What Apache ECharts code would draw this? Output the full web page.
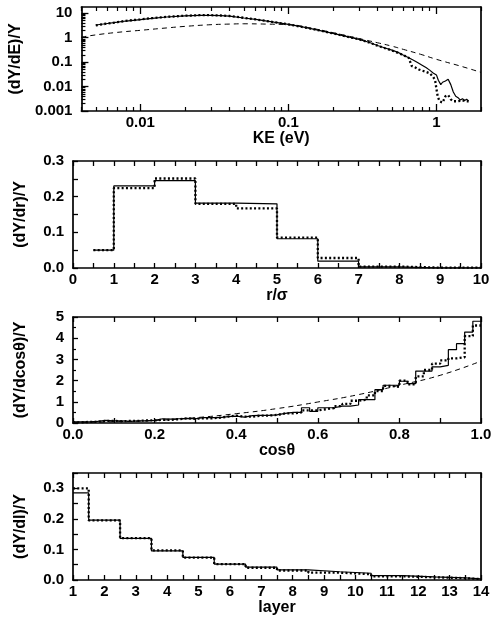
<!DOCTYPE html>
<html><head><meta charset="utf-8">
<script src="https://cdn.jsdelivr.net/npm/echarts@6/dist/echarts.min.js"></script>
<style>html,body{margin:0;padding:0;background:#fff}#c{width:498px;height:624px}</style>
</head><body><div id="c"></div>
<script>
// ---------- Panel 1: kinetic energy distribution ----------
const keSolidX = [0.005,0.006,0.007,0.008,0.01,0.012,0.015,0.02,0.025,0.03,0.035,0.04,0.05,0.06,0.07,0.08,0.1,0.12,0.15,0.2,0.25,0.3,0.35,0.4,0.45,0.5,0.55,0.6,0.65,0.7,0.75,0.8,0.85,0.9,0.95,1.0,1.03,1.07,1.1,1.15,1.2,1.25,1.3,1.35,1.4,1.45,1.5,1.55,1.6,1.65];
const keSolidY = [3.3,3.8,4.3,4.8,5.5,6.2,7.0,7.8,8.2,8.2,8.0,7.6,6.4,5.6,4.9,4.3,3.5,2.9,2.2,1.5,1.1,0.85,0.65,0.48,0.38,0.31,0.25,0.19,0.15,0.12,0.095,0.075,0.06,0.047,0.036,0.03,0.018,0.012,0.015,0.017,0.02,0.012,0.006,0.004,0.0035,0.0028,0.0032,0.0027,0.003,0.0026];
const keDotX = [0.005,0.006,0.007,0.008,0.01,0.012,0.015,0.02,0.025,0.03,0.035,0.04,0.05,0.06,0.07,0.08,0.1,0.12,0.15,0.2,0.25,0.3,0.35,0.4,0.45,0.5,0.55,0.6,0.65,0.68,0.72,0.76,0.8,0.85,0.9,0.95,0.98,1.0,1.02,1.05,1.1,1.15,1.2,1.25,1.3,1.4,1.5,1.6,1.65];
const keDotY = [3.2,3.8,4.3,4.9,5.6,6.3,7.1,7.9,8.3,8.3,8.1,7.7,6.5,5.6,4.9,4.3,3.5,2.85,2.2,1.5,1.1,0.86,0.64,0.47,0.37,0.3,0.24,0.19,0.15,0.07,0.06,0.05,0.045,0.04,0.035,0.025,0.018,0.008,0.004,0.0025,0.0022,0.004,0.0045,0.003,0.0025,0.0025,0.0027,0.0025,0.0025];
const keDashX = [0.004,0.005,0.007,0.01,0.015,0.02,0.03,0.04,0.05,0.07,0.1,0.15,0.2,0.3,0.4,0.5,0.6,0.8,1.0,1.5,2.0];
const keDashY = [1.05,1.3,1.65,2.0,2.5,2.9,3.4,3.6,3.7,3.6,3.4,2.3,1.6,0.92,0.62,0.45,0.33,0.2,0.13,0.065,0.038];
const keLabelVals = [0.01,0.1,1];
const keYLabelVals = [0.001,0.01,0.1,1,10];

// ---------- Panel 2: radial distribution ----------
const rEdges = [0.5,1,2,3,4,5,6,7,8,9,10];
const rSolid = [0.05,0.23,0.245,0.182,0.18,0.082,0.019,0.003,0,0];
const rDotted = [0.05,0.224,0.251,0.18,0.167,0.085,0.028,0.004,0.001,0.001];

// ---------- Panel 3: angular distribution ----------
const cosEdges = [0.00,0.02,0.04,0.06,0.08,0.10,0.12,0.14,0.16,0.18,0.20,0.22,0.24,0.26,0.28,0.30,0.32,0.34,0.36,0.38,0.40,0.42,0.44,0.46,0.48,0.50,0.52,0.54,0.56,0.58,0.60,0.62,0.64,0.66,0.68,0.70,0.72,0.74,0.76,0.78,0.80,0.82,0.84,0.86,0.88,0.90,0.92,0.94,0.96,0.98,1.00];
const cosSolid = [0.05,0.05,0.08,0.12,0.1,0.1,0.08,0.1,0.1,0.12,0.2,0.18,0.2,0.22,0.2,0.25,0.25,0.25,0.3,0.32,0.28,0.35,0.36,0.36,0.38,0.45,0.5,0.5,0.72,0.55,0.72,0.72,0.8,0.8,0.85,1.1,1.1,1.57,1.78,1.78,1.97,1.86,2.45,2.45,2.65,2.72,3.46,3.74,4.29,4.8];
const cosDotted = [0.03,0.05,0.06,0.1,0.1,0.08,0.1,0.1,0.12,0.12,0.15,0.15,0.18,0.22,0.2,0.22,0.22,0.25,0.3,0.35,0.3,0.3,0.35,0.35,0.38,0.45,0.45,0.5,0.6,0.6,0.65,0.7,0.8,0.9,1.05,1.1,1.3,1.5,1.75,1.7,2.0,1.82,2.2,2.5,2.8,2.95,3.05,3.1,4.1,4.6];
const cosDashX = [0,0.1,0.2,0.3,0.4,0.5,0.6,0.7,0.8,0.9,1.0];
const cosDashY = [0.03,0.06,0.12,0.25,0.44,0.68,0.99,1.34,1.78,2.25,2.92];

// ---------- Panel 4: layer distribution ----------
const layerEdges = [1,1.5,2.5,3.5,4.5,5.5,6.5,7.5,8.5,9.5,10.5,11.5,12.5,13.5,14];
const layerSolid = [0.285,0.196,0.136,0.095,0.074,0.052,0.042,0.033,0.027,0.022,0.014,0.01,0.007,0.004];
const layerDotted = [0.30,0.195,0.137,0.097,0.073,0.052,0.04,0.031,0.024,0.019,0.012,0.009,0.006,0.003];

// ---------- helpers ----------
const FONT = '"Liberation Sans", Arial, sans-serif';
const BLACK = '#000';
function zip(xs, ys){ return xs.map((x,i)=>[x, ys[i]]); }
function steps(edges, vals){
  const d = [];
  for (let i = 0; i < vals.length; i++) d.push([edges[i], vals[i]]);
  d.push([edges[edges.length-1], vals[vals.length-1]]);
  return d;
}
function logMinor(lo, hi){
  const out = [];
  [0.001,0.01,0.1,1,10].forEach(d => { for (let k = 2; k <= 9; k++){ const v = k*d; if (v >= lo*0.999 && v <= hi*1.001) out.push(v); } });
  return out;
}
function fmtNum(v){ return String(parseFloat(Number(v).toPrecision(3))); }

const grids = [
  {left:73, top:7,   width:408, height:104},
  {left:73, top:161, width:408, height:107},
  {left:73, top:317, width:408, height:106},
  {left:73, top:473, width:408, height:107}
];
const axisLineStyle = {show:true, onZero:false, lineStyle:{color:BLACK, width:1.7}};
const xLabelStyle = {color:BLACK, fontSize:15, fontWeight:'bold', fontFamily:FONT, margin:4};
const yLabelStyle = {color:BLACK, fontSize:15, fontWeight:'bold', fontFamily:FONT, margin:9};
const nameStyle = {color:BLACK, fontSize:16, fontWeight:'bold', fontFamily:FONT};

function baseX(g, extra){
  return Object.assign({
    gridIndex:g, position:'bottom', splitLine:{show:false},
    axisLine:axisLineStyle,
    axisTick:{show:true, inside:true, length:5, lineStyle:{color:BLACK, width:1.3}},
    axisLabel:xLabelStyle,
    nameLocation:'middle', nameGap:18, nameTextStyle:nameStyle
  }, extra);
}
function topX(g, extra){
  return Object.assign({
    gridIndex:g, position:'top', splitLine:{show:false},
    axisLine:axisLineStyle,
    axisTick:{show:true, inside:true, length:5, lineStyle:{color:BLACK, width:1.3}},
    axisLabel:{show:false}
  }, extra);
}
function baseY(g, extra){
  return Object.assign({
    gridIndex:g, position:'left', splitLine:{show:false},
    axisLine:axisLineStyle,
    axisTick:{show:true, inside:true, length:5, lineStyle:{color:BLACK, width:1.3}},
    axisLabel:yLabelStyle,
    nameLocation:'middle', nameGap:44, nameRotate:90, nameTextStyle:nameStyle
  }, extra);
}
function rightY(g, extra){
  return Object.assign({
    gridIndex:g, position:'right', splitLine:{show:false},
    axisLine:axisLineStyle, axisTick:{show:false}, axisLabel:{show:false}
  }, extra);
}

const keXMinor = logMinor(0.004, 2);
const keYMinor = logMinor(0.001, 18);

const intFmt = v => (Math.abs(v - Math.round(v)) < 1e-6 ? String(Math.round(v)) : '');
const xAxes = [
  // grid 0 (log)
  baseX(0, {type:'log', logBase:10, min:0.004, max:2, name:'KE (eV)', nameGap:13,
    axisTick:{show:true, inside:true, length:7, customValues:keLabelVals, lineStyle:{color:BLACK, width:1.3}},
    axisLabel:Object.assign({}, xLabelStyle, {customValues:keLabelVals, formatter:fmtNum})}),
  baseX(0, {type:'log', logBase:10, min:0.004, max:2, axisLine:{show:false},
    axisTick:{show:true, inside:true, length:4, customValues:keXMinor, lineStyle:{color:BLACK, width:1.2}},
    axisLabel:{show:false}}),
  topX(0, {type:'log', logBase:10, min:0.004, max:2,
    axisTick:{show:true, inside:true, length:7, customValues:keLabelVals, lineStyle:{color:BLACK, width:1.3}}}),
  topX(0, {type:'log', logBase:10, min:0.004, max:2, axisLine:{show:false},
    axisTick:{show:true, inside:true, length:4, customValues:keXMinor, lineStyle:{color:BLACK, width:1.2}}}),
  // grid 1
  baseX(1, {type:'value', min:0, max:10, interval:0.5, name:'r/σ',
    axisLabel:Object.assign({}, xLabelStyle, {formatter:intFmt})}),
  topX(1, {type:'value', min:0, max:10, interval:0.5}),
  // grid 2
  baseX(2, {type:'value', min:0, max:1, interval:0.1, name:'cosθ',
    axisLabel:Object.assign({}, xLabelStyle, {formatter:v => (Math.round(v*10) % 2 === 0 ? v.toFixed(1) : '')})}),
  topX(2, {type:'value', min:0, max:1, interval:0.1}),
  // grid 3
  baseX(3, {type:'value', min:1, max:14, interval:0.5, name:'layer', nameGap:15,
    axisLabel:Object.assign({}, xLabelStyle, {formatter:intFmt})}),
  topX(3, {type:'value', min:1, max:14, interval:0.5})
];

const tenthFmt = v => (Math.round(v*100) % 10 === 0 ? v.toFixed(1) : '');
const yAxes = [
  baseY(0, {type:'log', logBase:10, min:0.001, max:18, name:'(dY/dE)/Y',
    axisTick:{show:true, inside:true, length:7, customValues:keYLabelVals, lineStyle:{color:BLACK, width:1.3}},
    axisLabel:Object.assign({}, yLabelStyle, {customValues:keYLabelVals, formatter:fmtNum})}),
  baseY(0, {type:'log', logBase:10, min:0.001, max:18, axisLine:{show:false}, name:'',
    axisTick:{show:true, inside:true, length:4, customValues:keYMinor, lineStyle:{color:BLACK, width:1.2}},
    axisLabel:{show:false}}),
  rightY(0, {type:'log', logBase:10, min:0.001, max:18}),
  baseY(1, {type:'value', min:0, max:0.3, interval:0.05, name:'(dY/dr)/Y',
    axisLabel:Object.assign({}, yLabelStyle, {formatter:tenthFmt})}),
  rightY(1, {type:'value', min:0, max:0.3}),
  baseY(2, {type:'value', min:0, max:5, interval:1, name:'(dY/dcosθ)/Y',
    minorTick:{show:true, splitNumber:2, length:3, lineStyle:{color:BLACK, width:1.2}}}),
  rightY(2, {type:'value', min:0, max:5}),
  baseY(3, {type:'value', min:0, max:0.35, interval:0.05, name:'(dY/dl)/Y',
    axisLabel:Object.assign({}, yLabelStyle, {formatter:tenthFmt})}),
  rightY(3, {type:'value', min:0, max:0.35})
];

const solidStyle = {color:BLACK, width:1.2, type:'solid'};
const dotStyle = {color:BLACK, width:2.3, type:[2,2.3]};
const dashStyle = {color:BLACK, width:1, type:[5,4]};
function ln(xi, yi, data, style, extra){
  return Object.assign({type:'line', xAxisIndex:xi, yAxisIndex:yi, data:data, symbol:'none',
    lineStyle:style, itemStyle:{color:BLACK}, animation:false, silent:true}, extra||{});
}

const series = [
  ln(0,0, zip(keDashX, keDashY), dashStyle, {smooth:true}),
  ln(0,0, zip(keSolidX, keSolidY), solidStyle),
  ln(0,0, zip(keDotX, keDotY), dotStyle),
  ln(4,3, steps(rEdges, rSolid), solidStyle, {step:'end'}),
  ln(4,3, steps(rEdges, rDotted), dotStyle, {step:'end'}),
  ln(6,5, zip(cosDashX, cosDashY), dashStyle, {smooth:true}),
  ln(6,5, steps(cosEdges, cosSolid), solidStyle, {step:'end'}),
  ln(6,5, steps(cosEdges, cosDotted), dotStyle, {step:'end'}),
  ln(8,7, steps(layerEdges, layerSolid), solidStyle, {step:'end'}),
  ln(8,7, steps(layerEdges, layerDotted), dotStyle, {step:'end'})
];

const chart = echarts.init(document.getElementById('c'), null, {renderer:'canvas'});
chart.setOption({
  backgroundColor:'#fff',
  animation:false,
  textStyle:{fontFamily:FONT},
  grid:grids,
  xAxis:xAxes,
  yAxis:yAxes,
  series:series
});
</script></body></html>
